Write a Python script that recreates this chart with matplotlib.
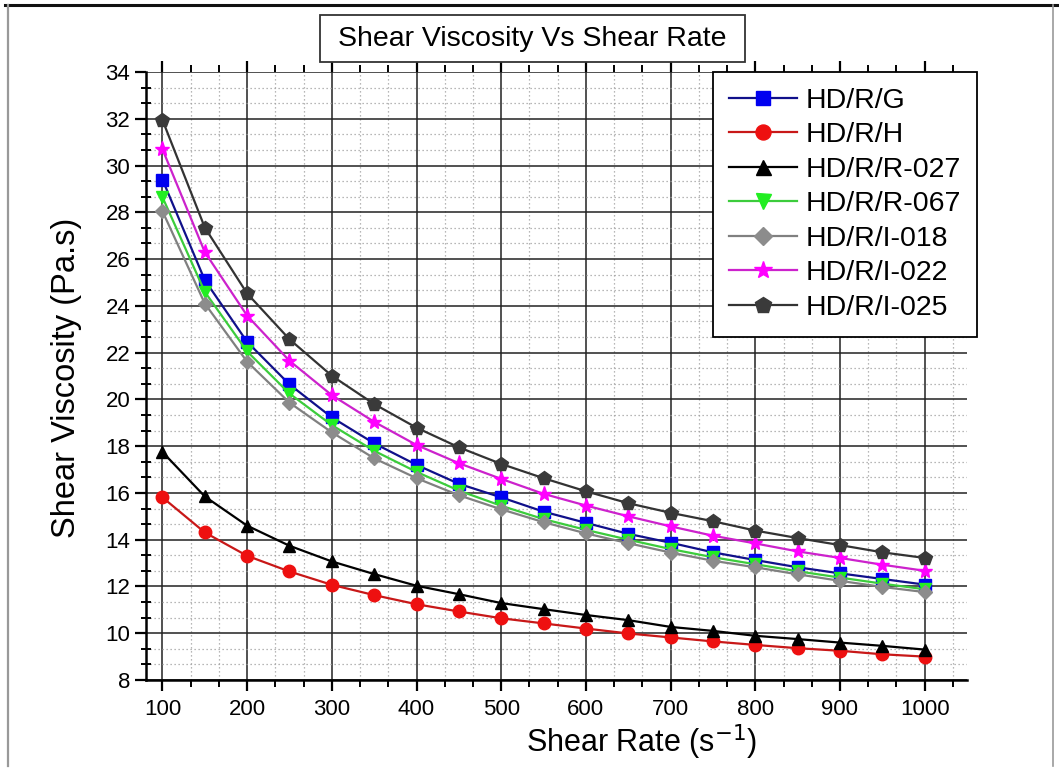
import matplotlib
matplotlib.use("Agg")
import matplotlib.pyplot as plt
from matplotlib.ticker import MultipleLocator, AutoMinorLocator
from matplotlib.patches import Rectangle
from matplotlib.lines import Line2D

# Shear rate (1/s)
shear_rate = [100, 150, 200, 250, 300, 350, 400, 450, 500, 550,
              600, 650, 700, 750, 800, 850, 900, 950, 1000]

# Shear viscosity (Pa.s) for each sample
visc_g = [29.4, 25.1, 22.46, 20.64, 19.23, 18.12, 17.2, 16.39, 15.81, 15.2,
          14.72, 14.25, 13.87, 13.46, 13.13, 12.82, 12.56, 12.32, 12.08]
visc_h = [15.81, 14.31, 13.31, 12.64, 12.07, 11.63, 11.24, 10.93, 10.64, 10.42,
          10.2, 9.99, 9.82, 9.65, 9.5, 9.36, 9.25, 9.1, 9.0]
visc_r027 = [17.75, 15.85, 14.6, 13.74, 13.07, 12.53, 12.03, 11.67, 11.29, 11.03,
             10.78, 10.56, 10.27, 10.1, 9.89, 9.75, 9.6, 9.46, 9.3]
visc_r067 = [28.65, 24.6, 22.05, 20.25, 18.9, 17.8, 16.9, 16.1, 15.45, 14.88,
             14.42, 14.0, 13.6, 13.25, 12.95, 12.65, 12.38, 12.12, 11.88]
visc_i018 = [28.05, 24.1, 21.61, 19.86, 18.59, 17.48, 16.63, 15.9, 15.3, 14.75,
             14.27, 13.85, 13.45, 13.1, 12.82, 12.52, 12.24, 11.98, 11.76]
visc_i022 = [30.7, 26.3, 23.58, 21.65, 20.18, 19.04, 18.05, 17.27, 16.6, 15.96,
             15.46, 15.0, 14.57, 14.17, 13.84, 13.5, 13.22, 12.93, 12.67]
visc_i025 = [31.95, 27.35, 24.53, 22.57, 21.01, 19.8, 18.79, 17.95, 17.24, 16.63,
             16.07, 15.56, 15.15, 14.79, 14.39, 14.07, 13.77, 13.46, 13.22]

labels = ["HD/R/G", "HD/R/H", "HD/R/R-027", "HD/R/R-067",
          "HD/R/I-018", "HD/R/I-022", "HD/R/I-025"]
series = [visc_g, visc_h, visc_r027, visc_r067, visc_i018, visc_i022, visc_i025]
line_colors = ["#10108a", "#c81818", "#000000", "#3ccc3c", "#808080", "#cc22cc", "#333333"]
face_colors = ["#0000f0", "#ee1010", "#000000", "#22ee22", "#8c8c8c", "#ff00ff", "#3a3a3a"]
markers = ["s", "o", "^", "v", "D", "*", "p"]
msizes = [8, 9, 9, 9, 7.5, 11, 10]

plt.rcParams["font.family"] = ["Liberation Sans", "DejaVu Sans"]

W, H = 1059, 770
fig = plt.figure(figsize=(W / 100, H / 100), dpi=100)
ax = fig.add_axes([145.5 / W, 1 - 680 / H, (967 - 145.5) / W, (680 - 72) / H])

for vals, lab, lc, fc, mk, ms in zip(series, labels, line_colors, face_colors, markers, msizes):
    ax.plot(shear_rate, vals, color=lc, lw=1.6, marker=mk, markersize=ms,
            markerfacecolor=fc, markeredgecolor=fc, label=lab, zorder=3)

ax.set_xlim(80, 1050)
ax.set_ylim(8, 34)
ax.xaxis.set_major_locator(MultipleLocator(100))
ax.xaxis.set_minor_locator(AutoMinorLocator(3))
ax.yaxis.set_major_locator(MultipleLocator(2))
ax.yaxis.set_minor_locator(AutoMinorLocator(3))

ax.grid(which="major", color="#222222", lw=1.1, ls="-", zorder=0)
ax.grid(which="minor", color="#a0a0a0", lw=0.9, ls=(0, (1, 2.2)), zorder=0)
ax.set_axisbelow(True)

for s in ["top", "right"]:
    ax.spines[s].set_visible(False)
for s in ["left", "bottom"]:
    ax.spines[s].set_linewidth(1.8)
    ax.spines[s].set_color("black")

ax.tick_params(axis="x", which="major", direction="out", length=8, width=1.6,
               labelsize=16, pad=6, top=True)
ax.tick_params(axis="x", which="minor", direction="out", length=5, width=1.4, top=True)
ax.tick_params(axis="y", which="major", direction="out", length=8, width=1.6,
               labelsize=16, pad=3)
ax.tick_params(axis="y", which="minor", direction="inout", length=7, width=1.4)

ax.set_xlabel("Shear Rate (s$^{-1}$)", fontsize=22)
ax.set_ylabel("Shear Viscosity (Pa.s)", fontsize=23.5)
ax.xaxis.set_label_coords(0.604, -0.070)
ax.yaxis.set_label_coords(-0.077, 0.497)

leg = fig.legend(loc="upper left", bbox_to_anchor=(713 / W, 1 - 72 / H),
                 bbox_transform=fig.transFigure, borderaxespad=0, fontsize=20.5,
                 fancybox=False, framealpha=1, edgecolor="black",
                 handlelength=2.4, handletextpad=0.3, labelspacing=0.3,
                 borderpad=0.55, markerscale=1.2)
leg.get_frame().set_linewidth(1.3)

# title box
fig.patches.append(Rectangle((320 / W, 1 - 62 / H), 425 / W, 47 / H,
                             transform=fig.transFigure, fill=True, facecolor="white",
                             edgecolor="#333333", lw=1.3))
fig.text(532 / W, 1 - 39 / H, "Shear Viscosity Vs Shear Rate",
         ha="center", va="center", fontsize=20.5)

# outer frame
fig.add_artist(Line2D([5 / W, 1.0], [1 - 5 / H, 1 - 5 / H], transform=fig.transFigure,
                      color="#111111", lw=2.2))
fig.add_artist(Line2D([8 / W, 8 / W], [1 - 5 / H, 4 / H], transform=fig.transFigure,
                      color="#999999", lw=1.6))
fig.add_artist(Line2D([1053 / W, 1053 / W], [1 - 5 / H, 4 / H], transform=fig.transFigure,
                      color="#999999", lw=1.2))

fig.savefig("out.png", dpi=100)
